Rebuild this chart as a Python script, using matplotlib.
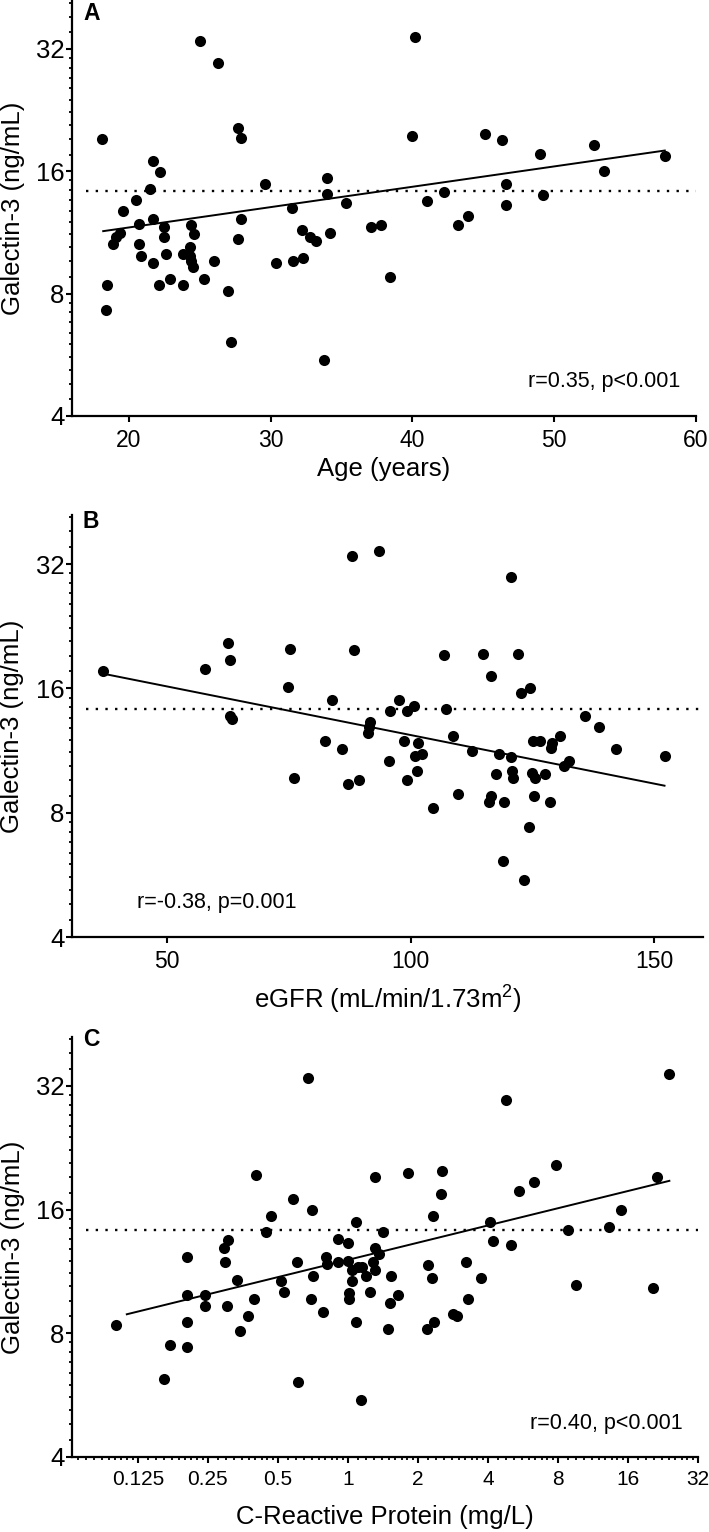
import numpy as np
import matplotlib
matplotlib.use("Agg")
import matplotlib.pyplot as plt
from matplotlib.ticker import FixedLocator, NullFormatter, NullLocator

plt.rcParams['font.family'] = ['Liberation Sans', 'DejaVu Sans']
plt.rcParams['mathtext.fontset'] = 'custom'
plt.rcParams['mathtext.rm'] = 'Liberation Sans'
plt.rcParams['mathtext.default'] = 'regular'

# === Panel A: age vs galectin-3 ===
age = [18.1, 25.0, 26.3, 27.7, 27.9, 21.7, 22.2, 21.5, 20.5, 19.6,
       29.6, 34.0, 34.0, 35.3, 31.5, 21.7, 20.7, 22.5, 24.4, 24.6,
       27.9, 32.2, 34.2, 32.8, 33.2, 19.4, 19.1, 18.9, 20.7, 22.5,
       27.7, 24.3, 23.8, 24.3, 24.4, 24.5, 22.6, 20.9, 21.7, 26.0,
       30.4, 31.6, 32.3, 22.9, 25.3, 22.1, 23.8, 18.5, 27.0, 18.4,
       27.2, 33.8, 40.2, 40.0, 45.1, 46.3, 49.0, 52.8, 57.8, 53.5,
       46.6, 49.2, 42.2, 41.0, 46.6, 43.9, 43.2, 37.1, 37.8, 38.4]
gal_a = [19.2, 33.4, 29.5, 20.5, 19.3, 17.0, 15.9, 14.5, 13.6, 12.8,
         14.9, 15.4, 14.1, 13.4, 13.0, 12.2, 11.9, 11.7, 11.8, 11.2,
         12.2, 11.5, 11.3, 11.0, 10.8, 11.3, 11.0, 10.6, 10.6, 11.0,
         10.9, 10.4, 10.0, 9.9, 9.6, 9.3, 10.0, 9.9, 9.5, 9.6,
         9.5, 9.6, 9.8, 8.7, 8.7, 8.4, 8.4, 8.4, 8.1, 7.3,
         6.1, 5.5, 34.3, 19.6, 19.8, 19.1, 17.7, 18.6, 17.5, 16.0,
         14.9, 14.0, 14.2, 13.5, 13.2, 12.4, 11.8, 11.7, 11.8, 8.8]
fit_age = [18.2, 57.8]
fit_gal_a = [11.4, 18.0]

# === Panel B: eGFR vs galectin-3 ===
egfr = [36.8, 57.8, 62.5, 62.9, 63.0, 63.4, 75.3, 74.9, 83.9, 82.4,
        85.9, 76.0, 87.1, 89.3, 87.9, 88.4, 93.6, 120.6, 106.9, 114.8,
        122.0, 116.5, 122.7, 124.4, 97.6, 95.8, 99.3, 100.7, 107.3, 91.7,
        91.5, 91.3, 98.7, 101.6, 100.8, 102.3, 95.6, 101.3, 99.3, 108.6,
        112.6, 118.1, 120.6, 117.5, 120.9, 121.1, 125.1, 126.5, 129.0, 128.8,
        130.7, 124.9, 125.6, 127.6, 131.4, 132.4, 135.8, 138.6, 142.2, 152.1,
        109.8, 104.6, 116.5, 116.0, 119.2, 125.4, 128.5, 124.3, 118.9, 123.2]
gal_b = [17.6, 17.8, 20.6, 18.7, 13.7, 13.5, 19.9, 16.1, 15.0, 11.9,
         11.4, 9.7, 9.4, 9.6, 33.5, 19.8, 34.5, 29.7, 19.3, 19.4,
         19.4, 17.1, 15.6, 16.0, 15.0, 14.1, 14.1, 14.5, 14.3, 13.3,
         12.9, 12.5, 11.9, 11.8, 11.0, 11.1, 10.7, 10.1, 9.6, 12.3,
         11.3, 11.1, 10.9, 9.9, 10.1, 9.7, 11.9, 11.9, 11.8, 11.5,
         12.3, 10.0, 9.7, 9.9, 10.4, 10.7, 13.7, 12.9, 11.4, 11.0,
         8.9, 8.2, 8.8, 8.5, 8.5, 8.8, 8.5, 7.4, 6.1, 5.5]
fit_egfr = [37.6, 152.1]
fit_gal_b = [17.3, 9.3]

# === Panel C: CRP vs galectin-3 ===
crp = [0.101, 0.171, 0.204, 0.162, 0.204, 0.204, 0.204, 0.243, 0.243, 0.293,
       0.304, 0.296, 0.303, 0.332, 0.343, 0.373, 0.394, 0.402, 0.443, 0.465,
       0.515, 0.532, 0.582, 0.602, 0.608, 0.702, 0.705, 0.693, 0.675, 0.783,
       0.804, 0.81, 0.903, 1.0, 0.903, 1.0, 1.04, 1.01, 1.01, 1.08,
       1.11, 1.08, 1.14, 1.31, 1.41, 1.31, 1.36, 1.28, 1.15, 1.31,
       1.20, 1.04, 1.24, 1.53, 1.51, 1.64, 1.48, 1.81, 2.55, 2.51,
       2.31, 2.20, 2.29, 2.18, 2.35, 2.82, 2.93, 3.22, 3.29, 3.72,
       4.08, 4.19, 5.01, 4.77, 5.44, 6.31, 7.84, 8.86, 9.56, 15.0,
       13.3, 20.4, 21.3, 24.1]
gal_c = [8.4, 7.5, 7.4, 6.2, 8.5, 9.9, 12.3, 9.9, 9.3, 12.9,
         13.5, 11.9, 9.3, 10.8, 8.1, 8.8, 9.7, 19.4, 14.1, 15.4,
         10.7, 10.1, 17.0, 11.9, 6.1, 16.0, 11.0, 9.7, 33.4, 9.0,
         12.3, 11.8, 13.6, 13.3, 11.9, 12.0, 10.7, 10.0, 9.7, 14.9,
         11.6, 8.5, 5.5, 19.2, 14.1, 12.9, 12.5, 11.9, 11.6, 11.4,
         11.0, 11.4, 10.1, 11.0, 9.5, 9.9, 8.2, 19.6, 19.9, 17.5,
         15.4, 11.7, 10.9, 8.2, 8.5, 8.9, 8.8, 11.9, 9.7, 10.9,
         14.9, 13.4, 13.1, 29.5, 17.8, 18.7, 20.5, 14.3, 10.5, 16.0,
         14.5, 10.3, 19.2, 34.3]
fit_crp = [0.112, 24.1]
fit_gal_c = [8.9, 18.8]

# reference (dotted) line
cutoff = 14.3
cut_age = [17.0, 60.0]
cut_egfr = [33.4, 160.0]
cut_crp = [0.0747, 32.0]

annot_a = "r=0.35, p<0.001"
annot_b = "r=-0.38, p=0.001"
annot_c = "r=0.40, p<0.001"

y_ticks = [4, 8, 16, 32]
crp_ticks = [0.125, 0.25, 0.5, 1, 2, 4, 8, 16, 32]
crp_labels = ["0.125", "0.25", "0.5", "1", "2", "4", "8", "16", "32"]


def minor_ticks(lo, hi):
    ticks = []
    base = 2.0 ** np.floor(np.log2(lo))
    while base < hi:
        for k in range(1, 10):
            t = base * (1 + k / 10)
            if lo < t < hi:
                ticks.append(t)
        base *= 2
    return ticks


def style_axes(ax):
    ax.set_yscale('log', base=2)
    ax.set_ylim(4, 42)
    ax.yaxis.set_major_locator(FixedLocator(y_ticks))
    ax.set_yticklabels([str(t) for t in y_ticks])
    ax.yaxis.set_minor_locator(FixedLocator(minor_ticks(4, 42)))
    ax.yaxis.set_minor_formatter(NullFormatter())
    for s in ['top', 'right']:
        ax.spines[s].set_visible(False)
    for s in ['left', 'bottom']:
        ax.spines[s].set_linewidth(1.6)
    ax.tick_params(which='major', length=4.5, width=1.5, direction='out', pad=1)
    ax.tick_params(which='minor', length=2.2, width=1.3, direction='out')
    ax.tick_params(axis='y', labelsize=18.5)
    ax.tick_params(axis='x', pad=5)
    ax.text(-0.095, 0.5, "Galectin-3 (ng/mL)", rotation=90, ha='center', va='center',
            fontsize=18.5, transform=ax.transAxes)


def draw_panel(ax, x, y, fit_x, fit_y, cut_x):
    ax.scatter(x, y, s=64, color='black', linewidths=0, zorder=3)
    ax.plot(fit_x, fit_y, color='black', lw=1.4)
    ax.plot(cut_x, [cutoff, cutoff], color='black', lw=1.7, linestyle=(0, (1, 3.1)))


fig = plt.figure(figsize=(7.09, 15.32), dpi=100)

# === A ===
axA = fig.add_axes([0.10155, 0.72846, 0.88011, 0.27089])
style_axes(axA)
draw_panel(axA, age, gal_a, fit_age, fit_gal_a, cut_age)
axA.set_xlim(16, 60)
axA.set_xticks([20, 30, 40, 50, 60])
axA.xaxis.set_minor_locator(NullLocator())
axA.tick_params(axis='x', labelsize=16.5)
axA.text(0.5, -0.128, "Age (years)", ha='center', va='center', fontsize=18.5,
         transform=axA.transAxes)
axA.text(0.974, 0.082, annot_a, ha='right', va='center', fontsize=15.5,
         transform=axA.transAxes)

# === B ===
axB = fig.add_axes([0.10155, 0.38838, 0.88999, 0.27526])
style_axes(axB)
draw_panel(axB, egfr, gal_b, fit_egfr, fit_gal_b, cut_egfr)
axB.set_xlim(30.5, 160)
axB.set_xticks([50, 100, 150])
axB.xaxis.set_minor_locator(NullLocator())
axB.tick_params(axis='x', labelsize=16.5)
axB.text(0.5, -0.149, "eGFR (mL/min/1.73m$^{2}$)", ha='center', va='center',
         fontsize=18.5, transform=axB.transAxes)
axB.text(0.103, 0.081, annot_b, ha='left', va='center', fontsize=15.5,
         transform=axB.transAxes)

# === C ===
axC = fig.add_axes([0.10155, 0.04896, 0.88293, 0.27389])
style_axes(axC)
draw_panel(axC, crp, gal_c, fit_crp, fit_gal_c, cut_crp)
axC.set_xscale('log', base=2)
axC.set_xlim(0.0651, 32)
axC.xaxis.set_major_locator(FixedLocator(crp_ticks))
axC.set_xticklabels(crp_labels)
axC.xaxis.set_minor_locator(FixedLocator(minor_ticks(0.0651, 32)))
axC.xaxis.set_minor_formatter(NullFormatter())
axC.tick_params(axis='x', labelsize=15)
axC.text(0.5, -0.143, "C-Reactive Protein (mg/L)", ha='center', va='center',
         fontsize=18.5, transform=axC.transAxes)
axC.text(0.976, 0.081, annot_c, ha='right', va='center', fontsize=15.5,
         transform=axC.transAxes)

# panel letters
for letter, ypx in [("A", 13.5), ("B", 522), ("C", 1040)]:
    fig.text(83 / 709, 1 - ypx / 1532, letter, ha='left', va='center',
             fontsize=16.5, fontweight='bold')

fig.savefig("out.png", dpi=100)
